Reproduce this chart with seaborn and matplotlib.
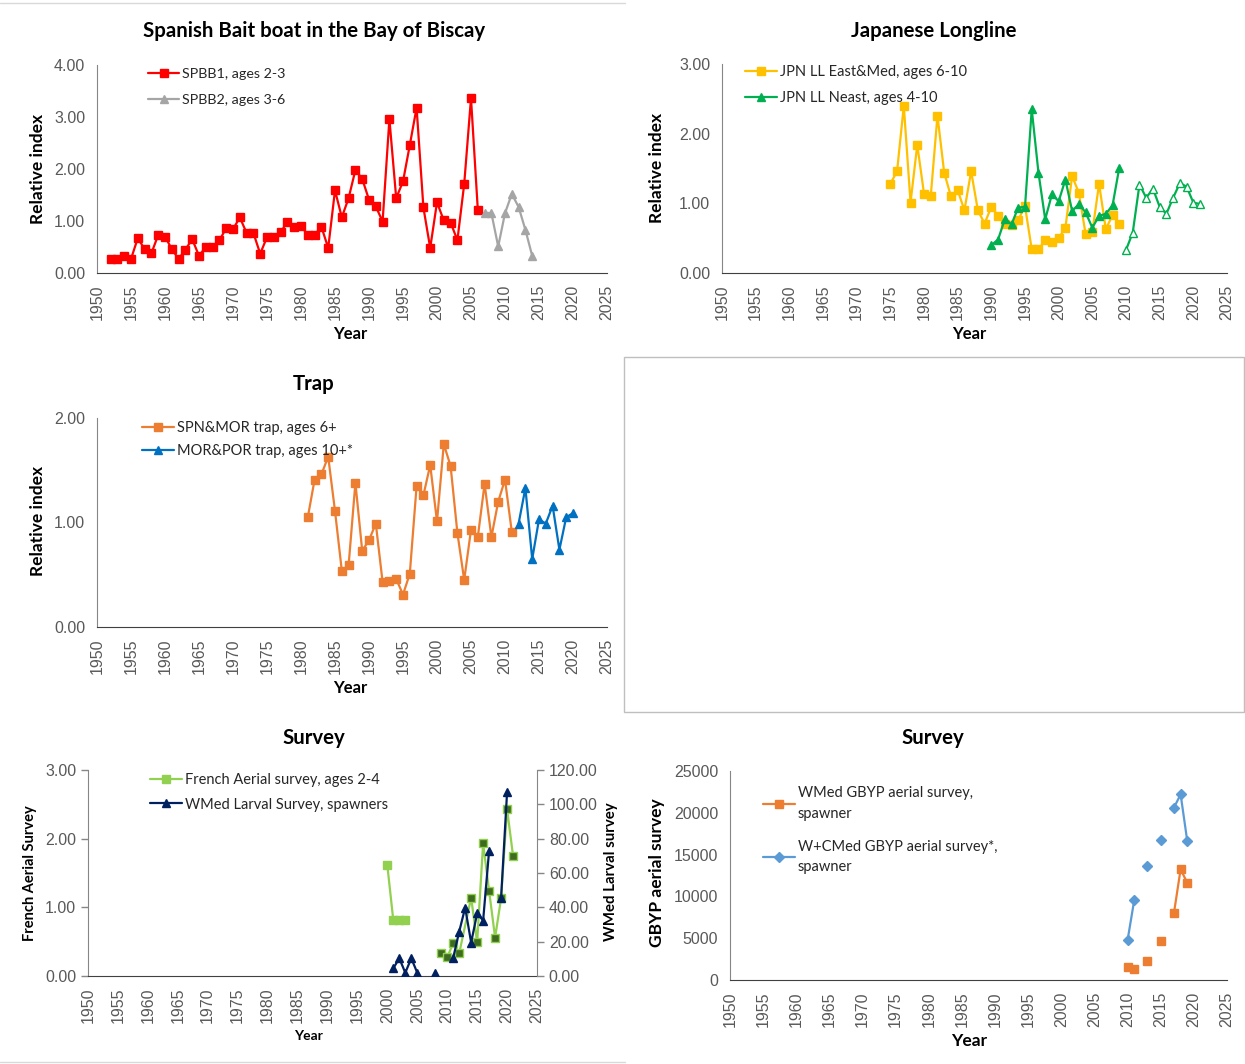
import numpy as np
import pandas as pd
import seaborn as sns
import matplotlib.pyplot as plt
from matplotlib.lines import Line2D
from matplotlib.patches import Rectangle
from matplotlib.ticker import FormatStrFormatter

nan = np.nan

# Spanish bait boat
spbb1_years = list(range(1952, 2007))
spbb1 = [0.27, 0.27, 0.33, 0.27, 0.67, 0.46, 0.38, 0.73, 0.70, 0.46,
         0.27, 0.45, 0.65, 0.33, 0.50, 0.50, 0.63, 0.86, 0.84, 1.07,
         0.77, 0.77, 0.37, 0.69, 0.69, 0.78, 0.99, 0.89, 0.91, 0.73,
         0.73, 0.89, 0.48, 1.59, 1.07, 1.44, 1.98, 1.81, 1.41, 1.28,
         0.99, 2.96, 1.44, 1.76, 2.46, 3.18, 1.26, 0.48, 1.36, 1.01,
         0.97, 0.63, 1.71, 3.36, 1.22]
spbb2_years = list(range(2007, 2015))
spbb2 = [1.16, 1.15, 0.51, 1.15, 1.52, 1.27, 0.83, 0.33]

# Japanese longline
jpn_em_years = list(range(1975, 2010))
jpn_em = [1.28, 1.46, 2.40, 1.01, 1.84, 1.14, 1.10, 2.26, 1.44, 1.10,
          1.19, 0.90, 1.46, 0.90, 0.71, 0.95, 0.82, 0.71, 0.69, 0.76,
          0.96, 0.34, 0.34, 0.47, 0.44, 0.50, 0.65, 1.39, 1.15, 0.56,
          0.59, 1.28, 0.63, 0.83, 0.70]
jpn_ne_years = list(range(1990, 2010))
jpn_ne = [0.40, 0.48, 0.77, 0.70, 0.94, 0.95, 2.35, 1.44, 0.77, 1.13,
          1.03, 1.34, 0.89, 0.99, 0.87, 0.65, 0.82, 0.85, 0.97, 1.51]
jpn_ne2_years = list(range(2010, 2022))
jpn_ne2 = [0.33, 0.58, 1.27, 1.08, 1.21, 0.95, 0.85, 1.08, 1.29, 1.24, 1.01, 0.99]

# Trap
trap_sm_years = list(range(1981, 2012))
trap_sm = [1.05, 1.41, 1.46, 1.63, 1.11, 0.54, 0.59, 1.38, 0.73, 0.83,
           0.99, 0.43, 0.44, 0.46, 0.31, 0.51, 1.35, 1.26, 1.55, 1.01,
           1.75, 1.54, 0.90, 0.45, 0.93, 0.86, 1.37, 0.86, 1.20, 1.41, 0.91]
trap_mp_years = list(range(2012, 2021))
trap_mp = [0.99, 1.33, 0.65, 1.03, 0.99, 1.16, 0.74, 1.05, 1.09]

# French aerial survey (left axis) and WMed larval survey (right axis)
fr_years = [2000, 2001, 2002, 2003, 2004, 2009, 2010, 2011, 2012, 2014,
            2015, 2016, 2017, 2018, 2019, 2020, 2021]
fr_vals = [1.61, 0.81, 0.81, 0.81, nan, 0.33, 0.27, 0.48, 0.33, 1.14,
           0.49, 1.93, 1.24, 0.56, 1.13, 2.43, 1.75]
larv_years = [2001, 2002, 2003, 2004, 2005, 2006, 2008, 2009, 2011, 2012,
              2013, 2014, 2015, 2016, 2017, 2018, 2019, 2020]
larv_vals = [4.5, 10.3, 1.9, 10.3, 1.9, nan, 1.6, nan, 10.5, 25.8,
             39.8, 19.5, 36.5, 32.3, 73.0, nan, 45.4, 107.0]

# GBYP aerial survey
gbyp_years = [2010, 2011, 2012, 2013, 2014, 2015, 2016, 2017, 2018, 2019]
gbyp_w = [1590, 1310, nan, 2310, nan, 4700, nan, 8040, 13250, 11620]
gbyp_wc = [4780, 9550, nan, 13610, nan, 16800, nan, 20620, 22210, 16640]

W, H = 1245, 1064
TICK = 11.5
sns.set_style("white")
plt.rcParams["font.family"] = ["Lato", "DejaVu Sans"]
fig = plt.figure(figsize=(W / 100, H / 100), dpi=100)


def box(left, top, right, bottom):
    return [left / W, 1 - bottom / H, (right - left) / W, (bottom - top) / H]


def draw(ax, years, vals, color, marker, ms, mfc=None, mec=None, lw=1.6):
    df = pd.DataFrame({"year": years, "val": vals})
    df["seg"] = df["val"].isna().cumsum()
    df = df.dropna()
    sns.lineplot(data=df, x="year", y="val", units="seg", estimator=None,
                 color=color, marker=marker, markersize=ms, linewidth=lw,
                 markerfacecolor=mfc or color, markeredgecolor=mec or color,
                 markeredgewidth=1, ax=ax, legend=False)
    ax.set_xlabel("")
    ax.set_ylabel("")


def style(ax, ymax, ystep, fmt, size=TICK):
    ax.set_xlim(1950, 2025)
    ax.set_xticks(range(1950, 2026, 5))
    ax.set_ylim(0, ymax)
    ax.set_yticks(np.arange(0, ymax + ystep / 2, ystep))
    ax.yaxis.set_major_formatter(FormatStrFormatter(fmt))
    ax.tick_params(axis="x", rotation=90, labelsize=size, labelcolor="#595959",
                   color="#404040", length=5, width=1, direction="out")
    ax.tick_params(axis="y", labelsize=size, labelcolor="#595959",
                   color="#868686", length=5, width=1, direction="out")
    for lab in ax.get_xticklabels() + ax.get_yticklabels():
        lab.set_family("Liberation Sans")
    ax.spines["top"].set_visible(False)
    ax.spines["right"].set_visible(False)
    ax.spines["left"].set_color("#868686")
    ax.spines["bottom"].set_color("#404040")
    ax.patch.set_alpha(0)


def ftext(x, y, s, size, rot=0, weight="bold"):
    fig.text(x / W, 1 - y / H, s, fontsize=size, fontweight=weight,
             rotation=rot, ha="center", va="center", color="black")


def legend(ax, handles, labels, x, y, size=10.5, spacing=0.55, linespacing=None):
    leg = ax.legend(handles, labels, loc="upper left", bbox_to_anchor=(x / W, 1 - y / H),
                    bbox_transform=fig.transFigure, frameon=False, fontsize=size,
                    handlelength=2.2, handletextpad=0.2, borderpad=0, borderaxespad=0,
                    labelspacing=spacing)
    if linespacing:
        for t in leg.get_texts():
            t.set_linespacing(linespacing)
    return leg


def handle(color, marker, ms, mfc=None):
    return Line2D([], [], color=color, marker=marker, markersize=ms, lw=1.6,
                  markerfacecolor=mfc or color, markeredgecolor=color)


# Panel 1: Spanish bait boat
ax1 = fig.add_axes(box(97, 65, 607, 273))
draw(ax1, spbb1_years, spbb1, "#FF0000", "s", 5.5)
draw(ax1, spbb2_years, spbb2, "#A5A5A5", "^", 5.5)
style(ax1, 4, 1, "%.2f")
legend(ax1, [handle("#FF0000", "s", 5.5), handle("#A5A5A5", "^", 5.5)],
       ["SPBB1, ages 2-3", "SPBB2, ages 3-6"], 148, 68, size=10.3, spacing=0.95)
ftext(314, 31, "Spanish Bait boat in the Bay of Biscay", 14.7)
ftext(38, 169, "Relative index", 12.5, rot=90)
ftext(350, 334, "Year", 12)

# Panel 2: Japanese longline
ax2 = fig.add_axes(box(722, 64, 1227, 273))
draw(ax2, jpn_em_years, jpn_em, "#FFC000", "s", 5.5)
draw(ax2, jpn_ne_years, jpn_ne, "#00B050", "^", 5.5)
draw(ax2, jpn_ne2_years, jpn_ne2, "#00B050", "^", 6, mfc="white")
style(ax2, 3, 1, "%.2f")
legend(ax2, [handle("#FFC000", "s", 5.5), handle("#00B050", "^", 5.5)],
       ["JPN LL East&Med, ages 6-10", "JPN LL Neast, ages 4-10"], 745, 65, spacing=0.85)
ftext(934, 31, "Japanese Longline", 14.7)
ftext(657, 168, "Relative index", 12.5, rot=90)
ftext(969, 334, "Year", 12)

# Panel 3: Trap
ax3 = fig.add_axes(box(97, 418, 607, 627))
draw(ax3, trap_sm_years, trap_sm, "#ED7D31", "s", 5.5)
draw(ax3, trap_mp_years, trap_mp, "#0070C0", "^", 5.5)
style(ax3, 2, 1, "%.2f")
legend(ax3, [handle("#ED7D31", "s", 5.5), handle("#0070C0", "^", 5.5)],
       ["SPN&MOR trap, ages 6+", "MOR&POR trap, ages 10+*"], 142, 421, spacing=0.65)
ftext(314, 384, "Trap", 14.7)
ftext(38, 521, "Relative index", 12.5, rot=90)
ftext(350, 688, "Year", 12)

# Panel 4: empty frame
fig.add_artist(Rectangle((624 / W, 1 - 712 / H), (1244 - 624) / W, (712 - 357) / H,
                         transform=fig.transFigure, fill=False,
                         edgecolor="#BFBFBF", lw=1))

# Panel 5: French aerial + WMed larval
ax5 = fig.add_axes(box(88, 770, 537, 976))
ax5r = ax5.twinx()
fr_early = [v if y < 2005 else nan for y, v in zip(fr_years, fr_vals)]
fr_late = [v if y > 2005 else nan for y, v in zip(fr_years, fr_vals)]
draw(ax5, fr_years, fr_early, "#92D050", "s", 5.5)
draw(ax5, fr_years, fr_late, "#92D050", "s", 5.5, mfc="#3E6B1F", mec="#92D050")
draw(ax5r, larv_years, larv_vals, "#002060", "^", 6)
style(ax5, 3, 1, "%.2f")
ax5r.set_ylim(0, 120)
ax5r.set_yticks(range(0, 121, 20))
ax5r.yaxis.set_major_formatter(FormatStrFormatter("%.2f"))
ax5r.tick_params(axis="y", labelsize=TICK, labelcolor="#595959", color="#868686",
                 length=5, width=1, direction="out")
for lab in ax5r.get_yticklabels():
    lab.set_family("Liberation Sans")
for s in ["top", "left", "bottom"]:
    ax5r.spines[s].set_visible(False)
ax5r.spines["right"].set_color("#868686")
legend(ax5r, [handle("#92D050", "s", 5.5), handle("#002060", "^", 6)],
       ["French Aerial survey, ages 2-4", "WMed Larval Survey, spawners"], 150, 773,
       spacing=0.72)
ftext(314, 738, "Survey", 14.7)
ftext(30, 873, "French Aerial Survey", 10.5, rot=90)
ftext(611, 872, "WMed Larval survey", 10.8, rot=90)
ftext(308, 1036, "Year", 10)

# Panel 6: GBYP aerial survey
ax6 = fig.add_axes(box(730, 771, 1227, 980))
draw(ax6, gbyp_years, gbyp_w, "#ED7D31", "s", 5.5)
draw(ax6, gbyp_years, gbyp_wc, "#5B9BD5", "D", 5)
style(ax6, 25000, 5000, "%d")
legend(ax6, [handle("#ED7D31", "s", 5.5), handle("#5B9BD5", "D", 5)],
       ["WMed GBYP aerial survey,\nspawner", "W+CMed GBYP aerial survey*,\nspawner"],
       763, 786, spacing=1.3, linespacing=1.6)
ftext(933, 738, "Survey", 14.7)
ftext(657, 873, "GBYP aerial survey", 12.5, rot=90)
ftext(969, 1041, "Year", 12.5)

# thin frame lines on the left column
fig.add_artist(Line2D([0, 625 / W], [1 - 3 / H, 1 - 3 / H], transform=fig.transFigure,
                      color="#D9D9D9", lw=1))
fig.add_artist(Line2D([0, 625 / W], [1 - 1062 / H, 1 - 1062 / H], transform=fig.transFigure,
                      color="#D9D9D9", lw=1))

fig.savefig("out.png", dpi=100)
